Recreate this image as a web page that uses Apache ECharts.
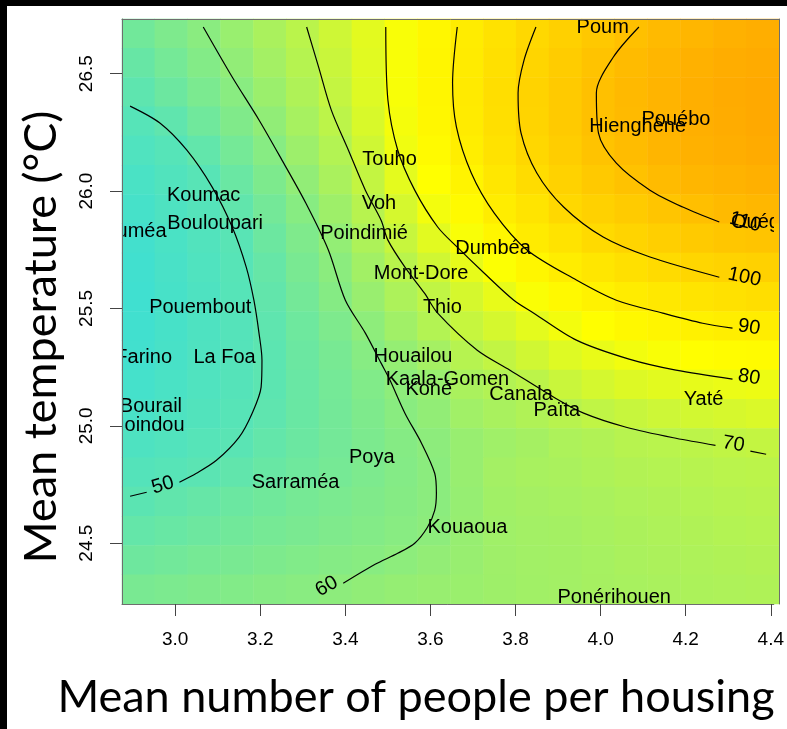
<!DOCTYPE html>
<html>
<head>
<meta charset="utf-8">
<script src="https://cdn.jsdelivr.net/npm/echarts@6/dist/echarts.min.js"></script>
<style>
  html, body { margin: 0; padding: 0; background: #fff; }
  #chart { width: 787px; height: 729px; }
</style>
</head>
<body>
<div id="chart"></div>
<script>
// Axis extents (people per housing, mean temperature in degrees C)
const peopleRange = [2.875, 4.407];
const tempRange = [24.241, 26.733];
const peopleTicks = [3.0, 3.2, 3.4, 3.6, 3.8, 4.0, 4.2, 4.4];
const tempTicks = [24.5, 25.0, 25.5, 26.0, 26.5];

// Centres of the fitted-surface cells: columns left to right, rows top to bottom
const peopleCells = [2.913, 2.990, 3.066, 3.143, 3.220, 3.296, 3.373, 3.449, 3.526, 3.602,
                     3.679, 3.756, 3.832, 3.909, 3.985, 4.062, 4.139, 4.215, 4.292, 4.368];
const tempCells = [26.671, 26.546, 26.422, 26.297, 26.173, 26.048, 25.923, 25.799, 25.674, 25.550,
                   25.425, 25.301, 25.176, 25.051, 24.927, 24.802, 24.678, 24.553, 24.428, 24.304];

// Fitted response on that grid (one row per temperature, warmest first)
const fieldRows = [
  [54.8, 57.3, 59.7, 62.8, 66.1, 69.3, 73.2, 77.4, 81.8, 86.5, 91.0, 95.3, 99.5, 102.9, 106.1, 109.4, 112.0, 114.0, 116.0, 117.0],
  [52.8, 55.5, 58.3, 61.3, 64.8, 68.3, 72.3, 77.0, 81.8, 86.6, 91.4, 96.2, 100.6, 104.4, 108.2, 111.6, 114.0, 115.9, 117.5, 118.5],
  [51.0, 53.8, 56.7, 59.5, 63.2, 67.1, 71.2, 76.5, 81.7, 86.7, 91.7, 96.8, 101.4, 105.3, 109.6, 112.4, 114.7, 116.7, 118.3, 119.5],
  [49.4, 51.3, 54.5, 57.7, 61.2, 65.4, 69.6, 75.3, 81.0, 86.2, 91.3, 96.4, 101.1, 105.3, 109.6, 112.3, 114.6, 116.6, 118.2, 119.5],
  [48.1, 49.4, 51.8, 55.5, 59.1, 63.5, 67.9, 73.5, 80.1, 85.1, 90.0, 95.2, 100.1, 104.3, 108.5, 111.5, 114.2, 116.0, 117.2, 118.5],
  [47.0, 48.4, 49.8, 53.3, 57.2, 61.3, 66.1, 71.1, 77.6, 83.2, 87.8, 93.2, 97.6, 102.2, 105.7, 108.9, 111.9, 113.9, 115.2, 116.5],
  [46.2, 47.7, 49.1, 51.5, 55.3, 59.2, 63.8, 68.6, 74.6, 80.7, 85.1, 90.8, 94.6, 99.3, 102.4, 105.0, 107.7, 110.2, 112.0, 113.3],
  [45.5, 47.0, 48.5, 50.0, 53.8, 57.5, 61.6, 66.7, 71.9, 77.2, 81.8, 86.9, 91.3, 95.0, 98.6, 101.2, 103.4, 105.3, 107.0, 108.0],
  [45.2, 46.7, 48.1, 49.6, 52.5, 56.3, 59.9, 64.5, 69.1, 73.6, 78.2, 82.4, 87.0, 90.8, 93.4, 95.9, 98.2, 100.3, 101.7, 102.6],
  [45.0, 46.4, 47.8, 49.3, 51.7, 55.3, 58.8, 62.7, 66.6, 70.5, 74.7, 78.4, 82.0, 85.5, 88.6, 91.0, 92.7, 94.3, 95.7, 96.8],
  [45.1, 46.4, 47.8, 49.1, 51.1, 54.2, 57.3, 60.6, 64.2, 67.9, 71.6, 74.6, 77.7, 80.7, 83.6, 85.8, 87.4, 88.9, 90.1, 90.7],
  [45.4, 46.6, 47.9, 49.1, 50.6, 53.5, 56.2, 59.1, 62.0, 65.0, 68.4, 70.8, 73.6, 76.4, 78.7, 80.4, 81.9, 83.3, 84.3, 84.9],
  [45.9, 47.0, 48.1, 49.2, 50.6, 53.1, 55.5, 58.0, 60.5, 62.8, 66.0, 67.6, 69.6, 72.3, 74.5, 76.2, 77.3, 78.2, 79.0, 79.5],
  [46.7, 47.7, 48.6, 49.6, 51.1, 53.2, 55.3, 57.4, 59.6, 61.4, 64.2, 65.8, 67.2, 68.8, 70.4, 71.9, 73.0, 74.0, 74.8, 75.6],
  [47.7, 48.5, 49.3, 50.2, 51.9, 53.6, 55.3, 57.0, 58.8, 60.3, 62.6, 64.0, 65.1, 66.6, 67.5, 68.6, 69.0, 69.7, 70.5, 71.1],
  [49.0, 49.6, 50.3, 51.6, 53.0, 54.4, 55.7, 57.1, 58.5, 59.9, 62.6, 64.8, 65.6, 66.1, 66.9, 67.6, 68.0, 68.6, 69.2, 69.5],
  [50.4, 51.5, 52.5, 53.6, 54.6, 55.7, 56.7, 57.8, 58.8, 59.9, 62.2, 64.3, 65.0, 65.4, 66.1, 66.8, 67.3, 67.8, 68.4, 68.8],
  [52.1, 53.0, 53.9, 54.8, 55.7, 56.6, 57.5, 58.4, 59.3, 60.3, 62.3, 64.0, 64.6, 64.9, 65.6, 66.3, 66.8, 67.2, 67.8, 68.2],
  [54.1, 54.9, 55.7, 56.4, 57.2, 57.9, 58.7, 59.4, 60.4, 61.5, 62.6, 63.9, 64.4, 64.7, 65.3, 66.0, 66.4, 66.8, 67.3, 67.6],
  [56.3, 56.9, 57.6, 58.2, 58.9, 59.5, 60.3, 61.2, 62.0, 62.6, 63.0, 63.8, 64.3, 64.6, 65.2, 65.7, 66.1, 66.5, 66.8, 67.1]
];
const fieldMin = 45;
const fieldMax = 121;

// Contour lines [people, temperature]; a line is split where its label sits
const contour50 = [
  [[2.894, 26.362], [2.964, 26.290], [3.027, 26.175], [3.087, 26.017], [3.134, 25.847], [3.167, 25.676],
   [3.185, 25.535], [3.197, 25.395], [3.204, 25.280], [3.202, 25.165], [3.181, 25.054], [3.150, 24.951],
   [3.097, 24.853], [3.050, 24.798], [3.010, 24.760]],
  [[2.933, 24.717], [2.894, 24.700]]
];
const contour60 = [
  [[3.066, 26.699], [3.134, 26.486], [3.197, 26.303], [3.251, 26.132], [3.307, 25.949], [3.360, 25.749],
   [3.400, 25.535], [3.447, 25.395], [3.484, 25.267], [3.505, 25.194], [3.540, 25.054], [3.579, 24.926],
   [3.610, 24.798], [3.614, 24.713], [3.610, 24.640], [3.593, 24.568], [3.563, 24.500], [3.523, 24.457],
   [3.470, 24.410], [3.395, 24.329]]
];
const contour70 = [
  [[3.309, 26.699], [3.337, 26.529], [3.367, 26.345], [3.407, 26.175], [3.447, 26.004], [3.484, 25.876],
   [3.500, 25.791], [3.540, 25.676], [3.586, 25.565], [3.617, 25.480], [3.710, 25.322], [3.787, 25.237],
   [3.890, 25.122], [3.960, 25.054], [4.060, 24.994], [4.177, 24.947], [4.270, 24.917]],
  [[4.352, 24.892], [4.389, 24.879]]
];
const contour80 = [
  [[3.495, 26.699], [3.500, 26.388], [3.523, 26.175], [3.563, 26.004], [3.617, 25.847], [3.663, 25.761],
   [3.726, 25.651], [3.796, 25.535], [3.843, 25.480], [3.943, 25.365], [4.067, 25.284], [4.177, 25.237],
   [4.310, 25.199]]
];
const contour90 = [
  [[3.663, 26.699], [3.652, 26.460], [3.661, 26.273], [3.696, 26.077], [3.750, 25.906], [3.827, 25.749],
   [3.943, 25.621], [4.037, 25.535], [4.146, 25.480], [4.240, 25.437], [4.310, 25.416]]
];
const contour100 = [
  [[3.848, 26.699], [3.820, 26.558], [3.806, 26.418], [3.813, 26.247], [3.850, 26.077], [3.913, 25.932],
   [4.006, 25.804], [4.116, 25.719], [4.279, 25.633]]
];
const contour110 = [
  [[4.090, 26.699], [4.030, 26.571], [3.990, 26.418], [3.995, 26.247], [4.037, 26.119], [4.116, 26.004],
   [4.193, 25.932], [4.279, 25.868]]
];
const contourSets = [contour50, contour60, contour70, contour80, contour90, contour100, contour110];
const contourLevels = [50, 60, 70, 80, 90, 100, 110];
const contourLabelAt = [[2.971, 24.747], [3.356, 24.316], [4.312, 24.922], [4.349, 25.207],
                        [4.349, 25.420], [4.338, 25.633], [4.340, 25.868]];

// Communes placed at their mean household size and mean temperature
const towns = ['Poum', 'Hienghène', 'Pouébo', 'Touho', 'Koumac', 'Voh', 'Bouloupari', 'Nouméa',
               'Poindimié', 'Dumbéa', 'Mont-Dore', 'Thio', 'Pouembout', 'Farino', 'La Foa',
               'Houailou', 'Kaala-Gomen', 'Koné', 'Canala', 'Païta', 'Yaté', 'Bourail', 'Moindou',
               'Poya', 'Sarraméa', 'Kouaoua', 'Ponérihouen', 'Ouégoa'];
const townPeople = [4.005, 4.087, 4.177, 3.504, 3.067, 3.479, 3.094, 2.891,
                    3.444, 3.747, 3.578, 3.628, 3.059, 2.926, 3.116,
                    3.559, 3.640, 3.596, 3.813, 3.897, 4.242, 2.943, 2.932,
                    3.462, 3.283, 3.687, 4.032, 4.390];
const townTemp = [26.695, 26.277, 26.307, 26.136, 25.983, 25.945, 25.864, 25.829,
                  25.821, 25.757, 25.650, 25.506, 25.506, 25.292, 25.292,
                  25.297, 25.199, 25.156, 25.135, 25.067, 25.113, 25.084, 25.003,
                  24.866, 24.760, 24.568, 24.269, 25.868];

// ---- drawing ----
const FRAME = '#6e6e6e';
const TICK = '#444';
const PLOT = { left: 122, top: 19, width: 657, height: 585 };
const LABEL_FONT = '"Liberation Sans", Arial, sans-serif';
const TITLE_FONT = 'Lato, "Open Sans", sans-serif';
const labelAngles = [17, 30, -10, -9, -9, -12, -15];

const heatData = [];
fieldRows.forEach((row, j) => row.forEach((v, i) => heatData.push([i, j, v])));

const lineSeries = [];
contourSets.forEach((set) => {
  set.forEach((segment) => {
    lineSeries.push({
      type: 'line', xAxisIndex: 1, yAxisIndex: 1, data: segment,
      symbol: 'none', showSymbol: false, smooth: 0.3, silent: true, z: 3,
      lineStyle: { color: '#000', width: 1.2 }
    });
  });
});

const chart = echarts.init(document.getElementById('chart'), null, { renderer: 'canvas' });
chart.setOption({
  animation: false,
  backgroundColor: '#ffffff',
  grid: [Object.assign({}, PLOT), Object.assign({}, PLOT)],
  xAxis: [
    {
      gridIndex: 0, type: 'category', data: peopleCells.map(String), position: 'top',
      boundaryGap: true, z: 10,
      axisLine: { show: true, lineStyle: { color: FRAME, width: 1 } },
      axisTick: { show: false }, axisLabel: { show: false }, splitLine: { show: false }
    },
    {
      gridIndex: 1, type: 'value', min: peopleRange[0], max: peopleRange[1], position: 'bottom', z: 10,
      axisLine: { show: true, onZero: false, lineStyle: { color: FRAME, width: 1 } },
      axisTick: { show: true, length: 12, customValues: peopleTicks, lineStyle: { color: TICK, width: 1 } },
      axisLabel: {
        customValues: peopleTicks, formatter: (v) => Number(v).toFixed(1), margin: 26,
        color: '#000', fontFamily: '"Liberation Sans", Arial, sans-serif', fontSize: 19
      },
      splitLine: { show: false }
    }
  ],
  yAxis: [
    {
      gridIndex: 0, type: 'category', data: tempCells.map(String), position: 'right', inverse: true,
      boundaryGap: true, z: 10,
      axisLine: { show: true, lineStyle: { color: FRAME, width: 1 } },
      axisTick: { show: false }, axisLabel: { show: false }, splitLine: { show: false }
    },
    {
      gridIndex: 1, type: 'value', min: tempRange[0], max: tempRange[1], position: 'left', z: 10,
      axisLine: { show: true, onZero: false, lineStyle: { color: FRAME, width: 1 } },
      axisTick: { show: true, length: 12, customValues: tempTicks, lineStyle: { color: TICK, width: 1 } },
      axisLabel: {
        customValues: tempTicks, formatter: (v) => Number(v).toFixed(1), rotate: 90, margin: 26,
        color: '#000', fontFamily: '"Liberation Sans", Arial, sans-serif', fontSize: 19
      },
      splitLine: { show: false }
    }
  ],
  visualMap: {
    show: false, type: 'continuous', seriesIndex: 0, dimension: 2,
    min: fieldMin, max: fieldMax,
    inRange: { color: ['#40E0D0', '#FFFF00', '#FFA500'] }
  },
  series: [
    {
      type: 'heatmap', xAxisIndex: 0, yAxisIndex: 0, data: heatData, silent: true,
      progressive: 0, itemStyle: { borderWidth: 0 }, emphasis: { disabled: true }
    },
    ...lineSeries,
    {
      type: 'custom', xAxisIndex: 1, yAxisIndex: 1, clip: true, silent: true, z: 4,
      data: contourLabelAt,
      encode: { x: 0, y: 1 },
      renderItem: (params, api) => {
        const p = api.coord([api.value(0), api.value(1)]);
        return {
          type: 'text', x: p[0], y: p[1],
          rotation: labelAngles[params.dataIndex] * Math.PI / 180,
          style: {
            text: String(contourLevels[params.dataIndex]), fill: '#000',
            font: '20px ' + LABEL_FONT,
            align: 'center', verticalAlign: 'middle', textAlign: 'center', textVerticalAlign: 'middle'
          }
        };
      }
    },
    {
      type: 'custom', xAxisIndex: 1, yAxisIndex: 1, clip: true, silent: true, z: 5,
      data: towns.map((_, i) => [townPeople[i], townTemp[i]]),
      encode: { x: 0, y: 1 },
      renderItem: (params, api) => {
        const p = api.coord([api.value(0), api.value(1)]);
        return {
          type: 'text', x: p[0], y: p[1],
          style: {
            text: towns[params.dataIndex], fill: '#000',
            font: '20px ' + LABEL_FONT,
            align: 'center', verticalAlign: 'middle', textAlign: 'center', textVerticalAlign: 'middle'
          }
        };
      }
    }
  ],
  graphic: [
    { type: 'rect', z: 100, shape: { x: 0, y: 0, width: 787, height: 6 }, style: { fill: '#000' } },
    { type: 'rect', z: 100, shape: { x: 0, y: 0, width: 7, height: 729 }, style: { fill: '#000' } },
    {
      type: 'text', z: 100, x: 416, y: 697,
      style: {
        text: 'Mean number of people per housing', fill: '#000', font: '45px ' + TITLE_FONT,
        align: 'center', verticalAlign: 'middle', textAlign: 'center', textVerticalAlign: 'middle'
      }
    },
    {
      type: 'text', z: 100, x: 41, y: 337, rotation: Math.PI / 2,
      style: {
        text: 'Mean temperature (°C)', fill: '#000', font: '45px ' + TITLE_FONT,
        align: 'center', verticalAlign: 'middle', textAlign: 'center', textVerticalAlign: 'middle'
      }
    }
  ]
});
</script>
</body>
</html>
